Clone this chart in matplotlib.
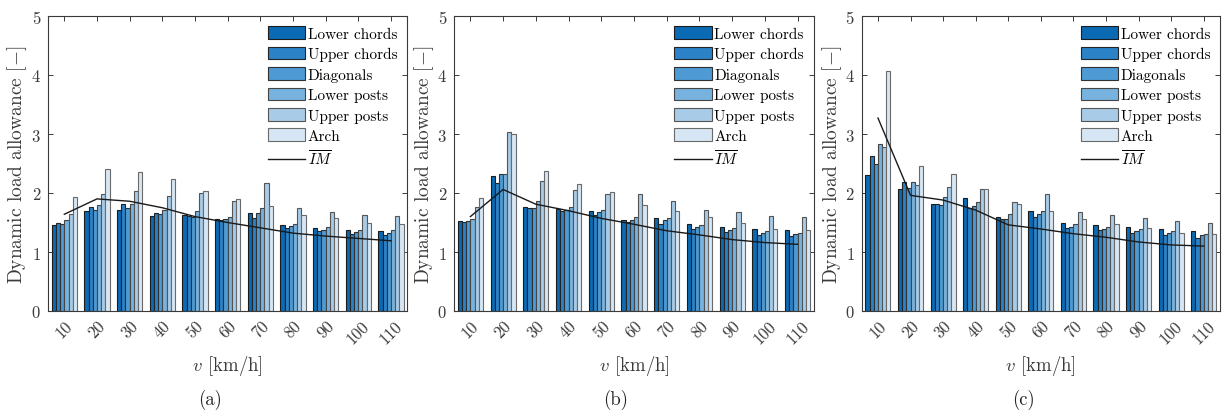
import numpy as np
import matplotlib
matplotlib.use('Agg')
import matplotlib.pyplot as plt
from matplotlib.lines import Line2D

plt.rcParams['font.family'] = ['cmr10', 'DejaVu Serif']
plt.rcParams['mathtext.fontset'] = 'cm'
plt.rcParams['axes.formatter.use_mathtext'] = True
plt.rcParams['axes.unicode_minus'] = False

speeds = ['10', '20', '30', '40', '50', '60', '70', '80', '90', '100', '110']
series_names = ['Lower chords', 'Upper chords', 'Diagonals', 'Lower posts', 'Upper posts', 'Arch']
panel_tags = ['(a)', '(b)', '(c)']

# Panel (a)
a_lower_chords = [1.46, 1.70, 1.72, 1.61, 1.63, 1.56, 1.66, 1.46, 1.41, 1.37, 1.36]
a_upper_chords = [1.50, 1.76, 1.81, 1.66, 1.61, 1.55, 1.58, 1.41, 1.36, 1.31, 1.29]
a_diagonals    = [1.48, 1.72, 1.75, 1.64, 1.59, 1.56, 1.66, 1.44, 1.38, 1.34, 1.32]
a_lower_posts  = [1.55, 1.80, 1.81, 1.72, 1.70, 1.60, 1.75, 1.48, 1.42, 1.38, 1.37]
a_upper_posts  = [1.65, 1.98, 2.03, 1.95, 2.00, 1.86, 2.17, 1.74, 1.67, 1.63, 1.61]
a_arch         = [1.93, 2.40, 2.36, 2.24, 2.03, 1.90, 1.78, 1.63, 1.58, 1.50, 1.47]
a_im           = [1.64, 1.90, 1.86, 1.75, 1.60, 1.50, 1.41, 1.32, 1.27, 1.23, 1.19]

# Panel (b)
b_lower_chords = [1.53, 2.29, 1.77, 1.73, 1.70, 1.55, 1.57, 1.47, 1.42, 1.39, 1.37]
b_upper_chords = [1.51, 2.17, 1.74, 1.69, 1.63, 1.51, 1.48, 1.39, 1.34, 1.29, 1.27]
b_diagonals    = [1.52, 2.32, 1.75, 1.71, 1.68, 1.55, 1.54, 1.42, 1.38, 1.33, 1.31]
b_lower_posts  = [1.56, 2.32, 1.86, 1.76, 1.71, 1.60, 1.57, 1.45, 1.40, 1.35, 1.33]
b_upper_posts  = [1.76, 3.03, 2.20, 2.05, 1.99, 1.99, 1.87, 1.72, 1.67, 1.61, 1.59]
b_arch         = [1.91, 3.00, 2.37, 2.16, 2.01, 1.80, 1.69, 1.59, 1.50, 1.39, 1.38]
b_im           = [1.60, 2.06, 1.81, 1.70, 1.57, 1.47, 1.36, 1.29, 1.21, 1.16, 1.13]

# Panel (c)
c_lower_chords = [2.30, 2.07, 1.81, 1.91, 1.60, 1.70, 1.49, 1.46, 1.43, 1.39, 1.35]
c_upper_chords = [2.62, 2.18, 1.81, 1.74, 1.56, 1.59, 1.40, 1.38, 1.33, 1.29, 1.24]
c_diagonals    = [2.49, 2.08, 1.79, 1.78, 1.56, 1.64, 1.42, 1.39, 1.36, 1.32, 1.29]
c_lower_posts  = [2.83, 2.19, 1.94, 1.84, 1.65, 1.69, 1.48, 1.43, 1.39, 1.35, 1.31]
c_upper_posts  = [2.78, 2.13, 2.11, 2.07, 1.84, 1.99, 1.68, 1.62, 1.58, 1.52, 1.49]
c_arch         = [4.07, 2.46, 2.33, 2.07, 1.81, 1.69, 1.56, 1.47, 1.40, 1.32, 1.30]
c_im           = [3.27, 1.96, 1.88, 1.71, 1.46, 1.39, 1.31, 1.25, 1.17, 1.12, 1.10]

panels = [
    ([a_lower_chords, a_upper_chords, a_diagonals, a_lower_posts, a_upper_posts, a_arch], a_im),
    ([b_lower_chords, b_upper_chords, b_diagonals, b_lower_posts, b_upper_posts, b_arch], b_im),
    ([c_lower_chords, c_upper_chords, c_diagonals, c_lower_posts, c_upper_posts, c_arch], c_im),
]

face_colors = ['#0a6ab4', '#2b82c7', '#4d9ad4', '#78b2de', '#a8cbe8', '#d6e6f4']
edge_colors = ['#1c1c1c', '#242424', '#303030', '#454545', '#555555', '#6a6a6a']
axis_gray = '#3a3a3a'

W, H = 1223, 414
fig = plt.figure(figsize=(W / 100, H / 100), dpi=100)

ax_left_px = [48, 454, 861.7]
ax_width_px = [359.3, 360, 358.3]
top_px, bottom_px = 17, 312
ylabel_x_px = [17, 424, 832]
tag_x_px = [210, 616, 1024]

n = len(speeds)
x = np.arange(1, n + 1)
bw = 0.128

for p, (series, im) in enumerate(panels):
    ax = fig.add_axes([ax_left_px[p] / W, 1 - bottom_px / H,
                       ax_width_px[p] / W, (bottom_px - top_px) / H])
    handles = []
    for j, vals in enumerate(series):
        bc = ax.bar(x + (j - 2.5) * bw, vals, width=bw, color=face_colors[j],
                    edgecolor=edge_colors[j], linewidth=0.8, label=series_names[j], zorder=2)
        handles.append(bc)
    ax.plot(x, im, color='#1a1a1a', lw=1.0, zorder=3)
    handles.append(Line2D([0], [0], color='#1a1a1a', lw=1.0))
    labels = series_names + [r'$\overline{IM}$']

    ax.set_xlim(0.5, n + 0.5)
    ax.set_ylim(0, 5)
    ax.set_xticks(x)
    ax.set_xticklabels(speeds, rotation=45, ha='center')
    ax.set_yticks(range(0, 6))
    ax.tick_params(axis='both', direction='in', length=3.5, width=0.7, colors=axis_gray,
                   labelsize=12, top=True, right=True)
    ax.tick_params(axis='x', pad=5)
    ax.tick_params(axis='y', pad=5)
    for s in ax.spines.values():
        s.set_color(axis_gray)
        s.set_linewidth(0.8)

    ax.set_xlabel(r'$v$ [km/h]', fontsize=13.5, color=axis_gray, labelpad=5)
    ax.set_ylabel(r'Dynamic load allowance [$-$]', fontsize=14, color=axis_gray,
                  va='center', ha='center')
    ax.yaxis.set_label_coords((ylabel_x_px[p] - ax_left_px[p]) / ax_width_px[p], 0.5)

    ax.legend(handles, labels, loc='upper left', bbox_to_anchor=(0.612, 0.965),
              frameon=False, fontsize=11, handlelength=2.45, handleheight=0.9,
              labelspacing=0.38, handletextpad=0.15, borderaxespad=0, borderpad=0)
    fig.text(tag_x_px[p] / W, 1 - 400 / H, panel_tags[p], ha='center', va='center',
             fontsize=13.5, color='#222222')

fig.savefig('out.png', dpi=100)
